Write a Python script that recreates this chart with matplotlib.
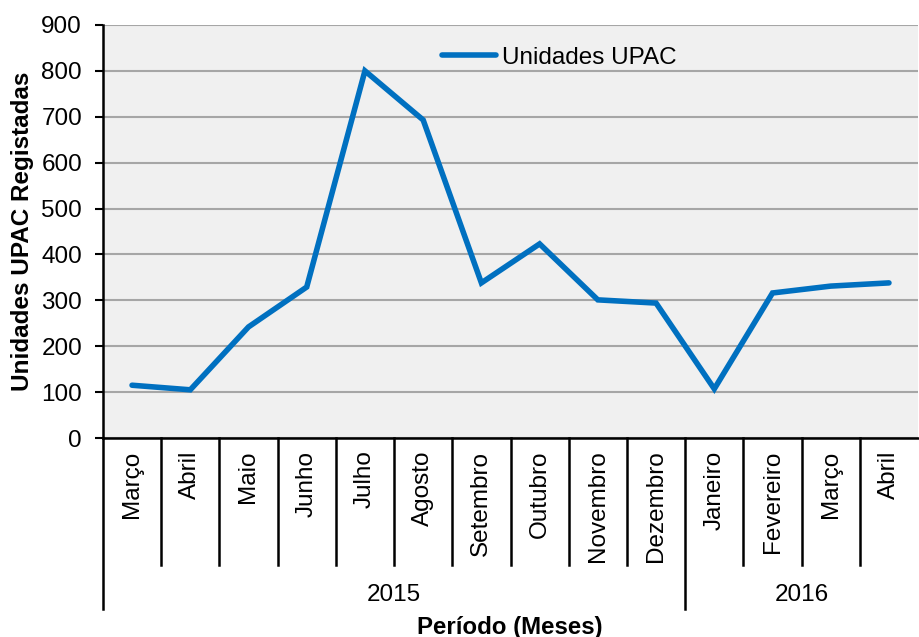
import matplotlib
matplotlib.use('Agg')
import matplotlib.pyplot as plt

plt.rcParams['font.family'] = ['Liberation Sans', 'DejaVu Sans']

meses = ['Março', 'Abril', 'Maio', 'Junho', 'Julho', 'Agosto', 'Setembro',
         'Outubro', 'Novembro', 'Dezembro', 'Janeiro', 'Fevereiro', 'Março', 'Abril']
anos = ['2015', '2016']
meses_por_ano = [10, 4]
unidades = [115, 105, 242, 329, 800, 693, 338, 423, 301, 294, 107, 316, 331, 338]

fs = 17.5

fig = plt.figure(figsize=(9.19, 6.37), dpi=100)
ax = fig.add_axes([0.112, 0.3124, 0.887, 0.6484])
ax.set_facecolor('#f0f0f0')

x = list(range(len(meses)))
ax.plot(x, unidades, color='#0070c0', linewidth=4, label='Unidades UPAC',
        solid_capstyle='round', solid_joinstyle='miter')

ax.set_xlim(-0.5, len(meses) - 0.5)
ax.set_ylim(0, 900)
ax.set_yticks(range(0, 901, 100))
ax.grid(axis='y', color='#a6a6a6', linewidth=1.5)
ax.set_axisbelow(True)
ax.tick_params(axis='y', labelsize=fs, length=6, width=1.5, pad=9)

for s in ['top', 'right']:
    ax.spines[s].set_visible(False)
for s in ['left', 'bottom']:
    ax.spines[s].set_linewidth(1.8)

ax.set_xticks(x)
ax.set_xticklabels(meses, rotation=90, fontsize=fs, va='top')
ax.tick_params(axis='x', length=0, pad=9)

# separadores das categorias
trans = ax.get_xaxis_transform()
limites = [sum(meses_por_ano[:i]) - 0.5 for i in range(len(meses_por_ano) + 1)]
for k in range(len(meses) + 1):
    xs = k - 0.5
    if xs in limites:
        if xs == len(meses) - 0.5:
            continue
        ax.plot([xs, xs], [0, -0.413], transform=trans, color='black',
                linewidth=1.8, clip_on=False)
    else:
        ax.plot([xs, xs], [0, -0.3075], transform=trans, color='black',
                linewidth=1.8, clip_on=False)

for i, ano in enumerate(anos):
    centro = (limites[i] + limites[i + 1]) / 2
    ax.text(centro, -0.381, ano, transform=trans, ha='center', va='center',
            fontsize=fs)

ax.set_xlabel('Período (Meses)', fontsize=17.3, fontweight='bold')
ax.xaxis.set_label_coords(0.499, -0.43)
ax.set_ylabel('Unidades UPAC Registadas', fontsize=17.5, fontweight='bold')
ax.yaxis.set_label_coords(-0.084, 0.5)

ax.legend(loc='upper center', bbox_to_anchor=(0.56, 1.0), frameon=False,
          fontsize=fs, handlelength=2.2, handletextpad=0.25)

fig.savefig('out.png', dpi=100)
